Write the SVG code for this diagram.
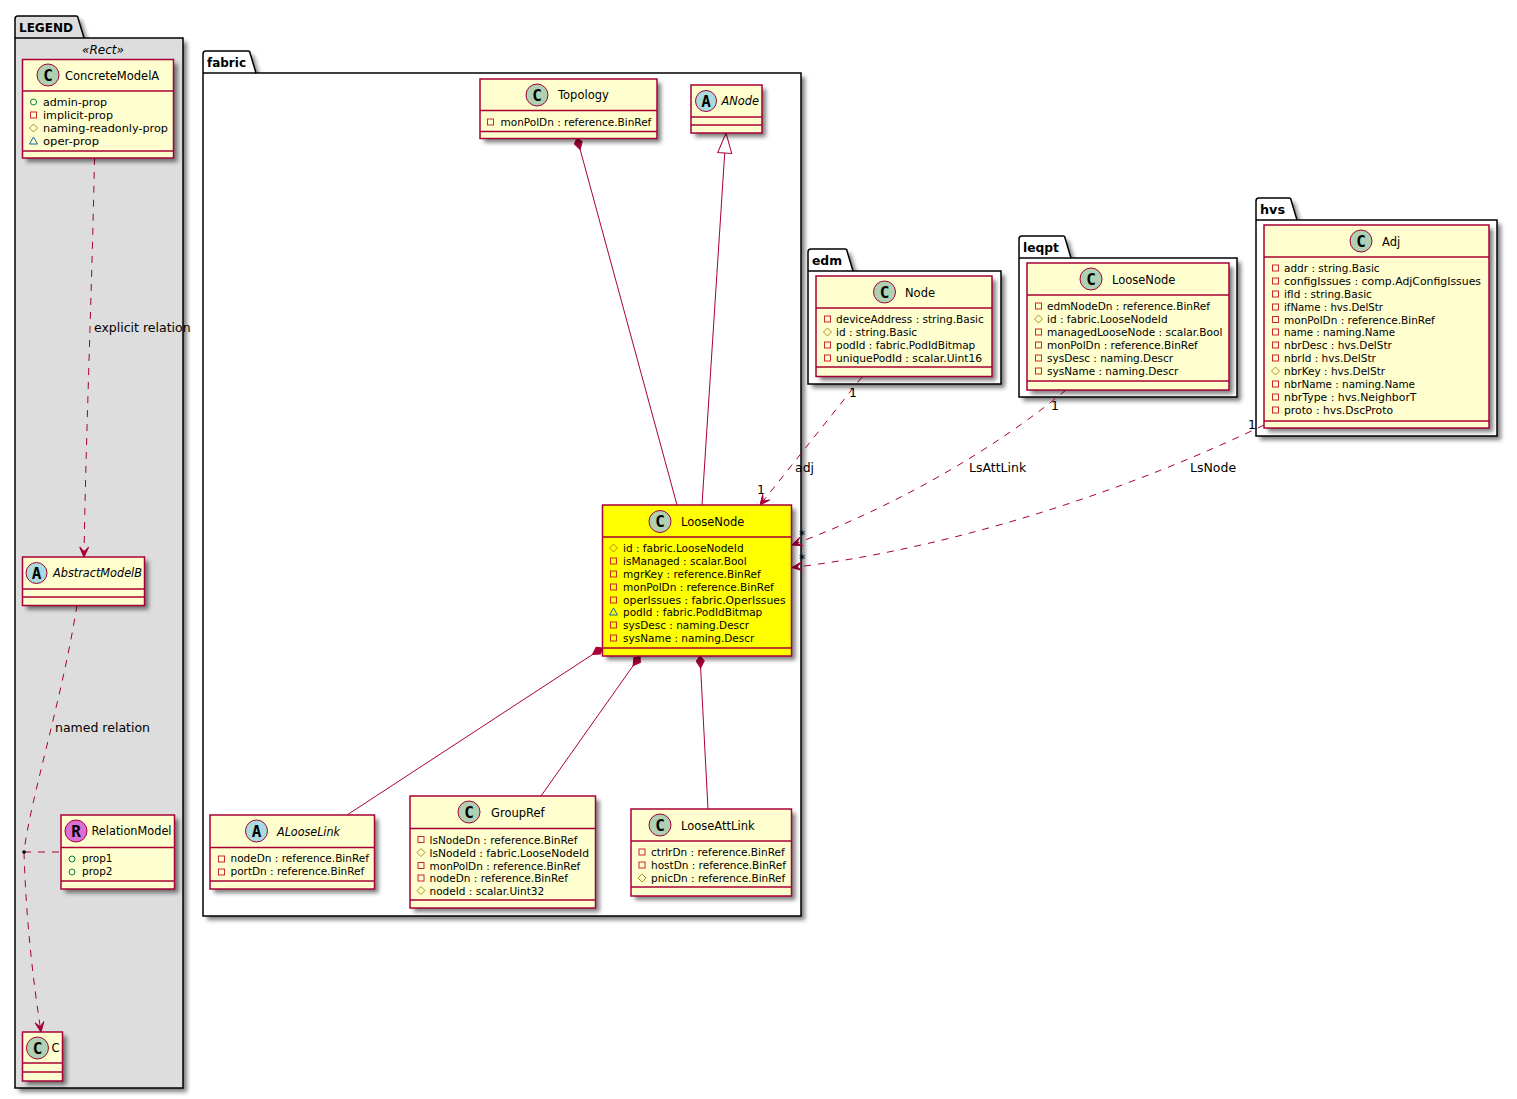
<svg xmlns="http://www.w3.org/2000/svg" width="1517" height="1099" viewBox="0 0 1517 1099">
<style>
text{font-family:"DejaVu Sans","Liberation Sans",sans-serif;fill:#000}
.m{font-size:10.5px}
.t{font-size:11.5px}
.i{font-style:italic}
.p{font-size:12.5px;font-weight:bold}
.l{font-size:12.5px}
.k{font-family:"DejaVu Sans Mono","Liberation Mono",monospace;font-size:16px;font-weight:bold;text-anchor:middle}
.pk{stroke:#000;stroke-width:1.5;fill:#fff}
.sd{fill:#000;opacity:.5}
.box{fill:#FEFECE;stroke:#A80036;stroke-width:1.5}
.ic{stroke:#A80036;stroke-width:1}
.d{stroke:#A80036;stroke-width:1.5}
.c{fill:none;stroke:#A80036;stroke-width:1}
.da{stroke-dasharray:7 7}
</style>
<defs>
<filter id="sh" x="-10%" y="-10%" width="125%" height="125%"><feGaussianBlur stdDeviation="2.2"/></filter>
<g id="pri"><rect x="-3" y="-3" width="6" height="6" fill="none" stroke="#C82930"/></g>
<g id="pro"><path d="M0,-4L4,0L0,4L-4,0Z" fill="none" stroke="#B38D22"/></g>
<g id="pub"><circle r="3" fill="none" stroke="#038048"/></g>
<g id="pkg"><path d="M-4,3L0,-4L4,3Z" fill="none" stroke="#1963A0"/></g>
<marker id="arr" markerUnits="userSpaceOnUse" viewBox="-12 -6 13 12" markerWidth="13" markerHeight="12" refX="0" refY="0" orient="auto"><path d="M0,0L-10,-4.500L-5,0L-10,4.500Z" fill="#A80036" stroke="#A80036"/></marker>
<marker id="dia" markerUnits="userSpaceOnUse" viewBox="-1 -6 15 12" markerWidth="15" markerHeight="12" refX="0" refY="0" orient="auto"><path d="M0,0L5,-4L12,0L5,4Z" fill="#A80036" stroke="#A80036"/></marker>
<marker id="tri" markerUnits="userSpaceOnUse" viewBox="-1 -9 22 18" markerWidth="22" markerHeight="18" refX="0" refY="0" orient="auto"><path d="M0,0L20,-7L20,7Z" fill="#fff" stroke="#A80036"/></marker>
</defs>

<g id="pkg-LEGEND">
<path class="sd" transform="translate(4 4)" d="M15,38V19Q15,16 18,16H76Q78,16 78,18L84,38H183V1088H15Z" filter="url(#sh)"/>
<path class="pk" style="fill:#DDD" d="M15,38V19Q15,16 18,16H76Q78,16 78,18L84,38H183V1088H15Z"/>
<path d="M15,38H84" stroke="#000" stroke-width="1.5"/>
<text class="p" x="19" y="32" textLength="54" lengthAdjust="spacingAndGlyphs">LEGEND</text>
<text class="t i" x="82" y="54" textLength="42" lengthAdjust="spacingAndGlyphs">«Rect»</text>
</g>
<g id="pkg-fabric">
<path class="sd" transform="translate(4 4)" d="M203,73V54Q203,51 206,51H248Q250,51 250,53L256,73H801V916H203Z" filter="url(#sh)"/>
<path class="pk" d="M203,73V54Q203,51 206,51H248Q250,51 250,53L256,73H801V916H203Z"/>
<path d="M203,73H256" stroke="#000" stroke-width="1.5"/>
<text class="p" x="207" y="67" textLength="39" lengthAdjust="spacingAndGlyphs">fabric</text>
</g>
<g id="pkg-edm">
<path class="sd" transform="translate(4 4)" d="M808,271V252Q808,249 811,249H845Q847,249 847,251L853,271H1001V384H808Z" filter="url(#sh)"/>
<path class="pk" d="M808,271V252Q808,249 811,249H845Q847,249 847,251L853,271H1001V384H808Z"/>
<path d="M808,271H853" stroke="#000" stroke-width="1.5"/>
<text class="p" x="812" y="265" textLength="30" lengthAdjust="spacingAndGlyphs">edm</text>
</g>
<g id="pkg-leqpt">
<path class="sd" transform="translate(4 4)" d="M1019,258V239Q1019,236 1022,236H1063Q1065,236 1065,238L1071,258H1237V397H1019Z" filter="url(#sh)"/>
<path class="pk" d="M1019,258V239Q1019,236 1022,236H1063Q1065,236 1065,238L1071,258H1237V397H1019Z"/>
<path d="M1019,258H1071" stroke="#000" stroke-width="1.5"/>
<text class="p" x="1023" y="252" textLength="36" lengthAdjust="spacingAndGlyphs">leqpt</text>
</g>
<g id="pkg-hvs">
<path class="sd" transform="translate(4 4)" d="M1256,220V201Q1256,198 1259,198H1289Q1291,198 1291,200L1297,220H1497V436H1256Z" filter="url(#sh)"/>
<path class="pk" d="M1256,220V201Q1256,198 1259,198H1289Q1291,198 1291,200L1297,220H1497V436H1256Z"/>
<path d="M1256,220H1297" stroke="#000" stroke-width="1.5"/>
<text class="p" x="1260" y="214" textLength="25" lengthAdjust="spacingAndGlyphs">hvs</text>
</g>

<g id="connectors">
<path class="c da" d="M94.5,158C92,290 86,430 84,557" marker-end="url(#arr)"/>
<path class="c da" d="M77,605C62,700 30,800 24,852"/>
<path class="c da" d="M24,852C26,920 33,980 41,1032" marker-end="url(#arr)"/>
<path class="c da" d="M24,852H61"/>
<circle cx="24" cy="852" r="1.800" fill="#000"/>
<path class="c" d="M577,138L677,505" marker-start="url(#dia)"/>
<path class="c" d="M726,133L702,505" marker-start="url(#tri)"/>
<path class="c" d="M602.500,648L347,815" marker-start="url(#dia)"/>
<path class="c" d="M640,656L541,796" marker-start="url(#dia)"/>
<path class="c" d="M700,656L708,809" marker-start="url(#dia)"/>
<path class="c da" d="M862,377L760,505" marker-end="url(#arr)"/>
<path class="c da" d="M1066,390C1000,445 900,505 792,545" marker-end="url(#arr)"/>
<path class="c da" d="M1264,425C1140,485 960,548 792,567.500" marker-end="url(#arr)"/>
<text class="l" x="94" y="332">explicit relation</text>
<text class="l" x="55" y="732">named relation</text>
<text class="l" x="795" y="472">adj</text>
<text class="l" x="969" y="472">LsAttLink</text>
<text class="l" x="1190" y="472">LsNode</text>
<text class="l" x="849" y="397">1</text>
<text class="l" x="757" y="494">1</text>
<text class="l" x="1051" y="410">1</text>
<text class="l" x="799" y="539">*</text>
<text class="l" x="1248" y="429">1</text>
<text class="l" x="799" y="563">*</text>
</g>

<g id="ConcreteModelA">
<rect x="26.500" y="63.500" width="151" height="98.500" class="sd" filter="url(#sh)"/>
<rect class="box" x="22.500" y="59.500" width="151" height="98.500"/>
<path class="d" d="M22.500,91H173.500M22.500,151H173.500"/>
<circle class="ic" cx="48" cy="75" r="11" fill="#ADD1B2"/><text class="k" x="48" y="80.500">C</text>
<text class="t" x="65" y="80">ConcreteModelA</text>
<use href="#pub" x="33.500" y="102"/><text class="m" x="43" y="106" textLength="64" lengthAdjust="spacingAndGlyphs">admin-prop</text>
<use href="#pri" x="33.500" y="115"/><text class="m" x="43" y="119" textLength="70" lengthAdjust="spacingAndGlyphs">implicit-prop</text>
<use href="#pro" x="33.500" y="128"/><text class="m" x="43" y="132" textLength="125" lengthAdjust="spacingAndGlyphs">naming-readonly-prop</text>
<use href="#pkg" x="33.500" y="141"/><text class="m" x="43" y="145" textLength="56" lengthAdjust="spacingAndGlyphs">oper-prop</text>
</g>
<g id="AbstractModelB">
<rect x="26.500" y="561" width="122" height="48.500" class="sd" filter="url(#sh)"/>
<rect class="box" x="22.500" y="557" width="122" height="48.500"/>
<path class="d" d="M22.500,589H144.500M22.500,597H144.500"/>
<circle class="ic" cx="36.500" cy="573" r="10.500" fill="#A9DCDF"/><text class="k" x="36.500" y="578.500">A</text>
<text class="t i" x="53" y="577" textLength="89" lengthAdjust="spacingAndGlyphs">AbstractModelB</text>
</g>
<g id="RelationModel">
<rect x="65" y="819" width="113.500" height="74" class="sd" filter="url(#sh)"/>
<rect class="box" x="61" y="815" width="113.500" height="74"/>
<path class="d" d="M61,847.500H174.500M61,881H174.500"/>
<circle class="ic" cx="76" cy="831" r="11" fill="#DA70D6"/><text class="k" x="76" y="836.500">R</text>
<text class="t" x="91.500" y="835" textLength="80" lengthAdjust="spacingAndGlyphs">RelationModel</text>
<use href="#pub" x="72" y="859"/><text class="m" x="82" y="862">prop1</text>
<use href="#pub" x="72" y="872"/><text class="m" x="82" y="875">prop2</text>
</g>
<g id="C">
<rect x="26.500" y="1036" width="40" height="49" class="sd" filter="url(#sh)"/>
<rect class="box" x="22.500" y="1032" width="40" height="49"/>
<path class="d" d="M22.500,1063H62.500M22.500,1072H62.500"/>
<circle class="ic" cx="37.500" cy="1048" r="11" fill="#ADD1B2"/><text class="k" x="37.500" y="1053.500">C</text>
<text class="t" x="51.500" y="1052">C</text>
</g>
<g id="Topology">
<rect x="484" y="83" width="177" height="59.500" class="sd" filter="url(#sh)"/>
<rect class="box" x="480" y="79" width="177" height="59.500"/>
<path class="d" d="M480,110.500H657M480,131.500H657"/>
<circle class="ic" cx="537" cy="95" r="11" fill="#ADD1B2"/><text class="k" x="537" y="100.500">C</text>
<text class="t" x="558" y="99">Topology</text>
<use href="#pri" x="490.500" y="122"/><text class="m" x="500.500" y="126">monPolDn : reference.BinRef</text>
</g>
<g id="ANode">
<rect x="695" y="89" width="71" height="48" class="sd" filter="url(#sh)"/>
<rect class="box" x="691" y="85" width="71" height="48"/>
<path class="d" d="M691,117H762M691,125H762"/>
<circle class="ic" cx="706" cy="101" r="10.500" fill="#A9DCDF"/><text class="k" x="706" y="106.500">A</text>
<text class="t i" x="721.500" y="105" textLength="37.500" lengthAdjust="spacingAndGlyphs">ANode</text>
</g>
<g id="fabric-LooseNode">
<rect x="606.500" y="509" width="189" height="151" class="sd" filter="url(#sh)"/>
<rect class="box" style="fill:#FF0" x="602.500" y="505" width="189" height="151"/>
<path class="d" d="M602.500,537H791.500M602.500,648H791.500"/>
<circle class="ic" cx="660" cy="521.500" r="11" fill="#ADD1B2"/><text class="k" x="660" y="527">C</text>
<text class="t" x="681" y="526">LooseNode</text>
<use href="#pro" x="613.500" y="548"/><text class="m" x="623" y="552">id : fabric.LooseNodeId</text>
<use href="#pri" x="613.500" y="561"/><text class="m" x="623" y="565">isManaged : scalar.Bool</text>
<use href="#pri" x="613.500" y="574"/><text class="m" x="623" y="578">mgrKey : reference.BinRef</text>
<use href="#pri" x="613.500" y="587"/><text class="m" x="623" y="591">monPolDn : reference.BinRef</text>
<use href="#pri" x="613.500" y="600"/><text class="m" x="623" y="604" textLength="162.500" lengthAdjust="spacingAndGlyphs">operIssues : fabric.OperIssues</text>
<use href="#pkg" x="613.500" y="612"/><text class="m" x="623" y="616">podId : fabric.PodIdBitmap</text>
<use href="#pri" x="613.500" y="625"/><text class="m" x="623" y="629">sysDesc : naming.Descr</text>
<use href="#pri" x="613.500" y="638"/><text class="m" x="623" y="642">sysName : naming.Descr</text>
</g>
<g id="ALooseLink">
<rect x="214" y="819" width="164.500" height="74" class="sd" filter="url(#sh)"/>
<rect class="box" x="210" y="815" width="164.500" height="74"/>
<path class="d" d="M210,847.500H374.500M210,881H374.500"/>
<circle class="ic" cx="256.500" cy="831" r="11" fill="#A9DCDF"/><text class="k" x="256.500" y="836.500">A</text>
<text class="t i" x="277" y="836" textLength="63" lengthAdjust="spacingAndGlyphs">ALooseLink</text>
<use href="#pri" x="221.500" y="859"/><text class="m" x="230.500" y="862">nodeDn : reference.BinRef</text>
<use href="#pri" x="221.500" y="872"/><text class="m" x="230.500" y="875">portDn : reference.BinRef</text>
</g>
<g id="GroupRef">
<rect x="414" y="800" width="185.500" height="112" class="sd" filter="url(#sh)"/>
<rect class="box" x="410" y="796" width="185.500" height="112"/>
<path class="d" d="M410,828.500H595.500M410,900H595.500"/>
<circle class="ic" cx="469" cy="812" r="11" fill="#ADD1B2"/><text class="k" x="469" y="817.500">C</text>
<text class="t" x="491" y="817">GroupRef</text>
<use href="#pri" x="421" y="839.500"/><text class="m" x="429.500" y="843.500">lsNodeDn : reference.BinRef</text>
<use href="#pro" x="421" y="852.500"/><text class="m" x="429.500" y="856.500" textLength="159.500" lengthAdjust="spacingAndGlyphs">lsNodeId : fabric.LooseNodeId</text>
<use href="#pri" x="421" y="865.500"/><text class="m" x="429.500" y="869.500">monPolDn : reference.BinRef</text>
<use href="#pri" x="421" y="878"/><text class="m" x="429.500" y="882">nodeDn : reference.BinRef</text>
<use href="#pro" x="421" y="890.500"/><text class="m" x="429.500" y="894.500">nodeId : scalar.Uint32</text>
</g>
<g id="LooseAttLink">
<rect x="635" y="813" width="160.500" height="87" class="sd" filter="url(#sh)"/>
<rect class="box" x="631" y="809" width="160.500" height="87"/>
<path class="d" d="M631,841H791.500M631,887H791.500"/>
<circle class="ic" cx="660" cy="825" r="11" fill="#ADD1B2"/><text class="k" x="660" y="830.500">C</text>
<text class="t" x="681" y="830">LooseAttLink</text>
<use href="#pri" x="642" y="852"/><text class="m" x="651" y="856">ctrlrDn : reference.BinRef</text>
<use href="#pri" x="642" y="865"/><text class="m" x="651" y="869">hostDn : reference.BinRef</text>
<use href="#pro" x="642" y="878"/><text class="m" x="651" y="882">pnicDn : reference.BinRef</text>
</g>
<g id="edm-Node">
<rect x="820" y="280" width="176" height="100.500" class="sd" filter="url(#sh)"/>
<rect class="box" x="816" y="276" width="176" height="100.500"/>
<path class="d" d="M816,308H992M816,367H992"/>
<circle class="ic" cx="884.500" cy="292" r="11" fill="#ADD1B2"/><text class="k" x="884.500" y="297.500">C</text>
<text class="t" x="905" y="297">Node</text>
<use href="#pri" x="827.500" y="319"/><text class="m" x="836" y="323">deviceAddress : string.Basic</text>
<use href="#pro" x="827.500" y="332"/><text class="m" x="836" y="336">id : string.Basic</text>
<use href="#pri" x="827.500" y="345"/><text class="m" x="836" y="349">podId : fabric.PodIdBitmap</text>
<use href="#pri" x="827.500" y="358"/><text class="m" x="836" y="362" textLength="146" lengthAdjust="spacingAndGlyphs">uniquePodId : scalar.Uint16</text>
</g>
<g id="leqpt-LooseNode">
<rect x="1031" y="267" width="202" height="127" class="sd" filter="url(#sh)"/>
<rect class="box" x="1027" y="263" width="202" height="127"/>
<path class="d" d="M1027,295H1229M1027,381H1229"/>
<circle class="ic" cx="1091" cy="279" r="11" fill="#ADD1B2"/><text class="k" x="1091" y="284.500">C</text>
<text class="t" x="1112" y="284">LooseNode</text>
<use href="#pri" x="1038.500" y="306"/><text class="m" x="1047" y="310">edmNodeDn : reference.BinRef</text>
<use href="#pro" x="1038.500" y="319"/><text class="m" x="1047" y="323">id : fabric.LooseNodeId</text>
<use href="#pri" x="1038.500" y="332"/><text class="m" x="1047" y="336" textLength="175.500" lengthAdjust="spacingAndGlyphs">managedLooseNode : scalar.Bool</text>
<use href="#pri" x="1038.500" y="345"/><text class="m" x="1047" y="349">monPolDn : reference.BinRef</text>
<use href="#pri" x="1038.500" y="358"/><text class="m" x="1047" y="362">sysDesc : naming.Descr</text>
<use href="#pri" x="1038.500" y="371"/><text class="m" x="1047" y="375">sysName : naming.Descr</text>
</g>
<g id="hvs-Adj">
<rect x="1268" y="229" width="225" height="203" class="sd" filter="url(#sh)"/>
<rect class="box" x="1264" y="225" width="225" height="203"/>
<path class="d" d="M1264,257H1489M1264,421H1489"/>
<circle class="ic" cx="1361" cy="241" r="11" fill="#ADD1B2"/><text class="k" x="1361" y="246.500">C</text>
<text class="t" x="1382" y="246">Adj</text>
<use href="#pri" x="1275.500" y="268"/><text class="m" x="1284" y="272">addr : string.Basic</text>
<use href="#pri" x="1275.500" y="281"/><text class="m" x="1284" y="285" textLength="197" lengthAdjust="spacingAndGlyphs">configIssues : comp.AdjConfigIssues</text>
<use href="#pri" x="1275.500" y="294"/><text class="m" x="1284" y="298">ifId : string.Basic</text>
<use href="#pri" x="1275.500" y="307"/><text class="m" x="1284" y="311" textLength="99" lengthAdjust="spacingAndGlyphs">ifName : hvs.DelStr</text>
<use href="#pri" x="1275.500" y="319.500"/><text class="m" x="1284" y="323.500">monPolDn : reference.BinRef</text>
<use href="#pri" x="1275.500" y="332"/><text class="m" x="1284" y="336" textLength="111" lengthAdjust="spacingAndGlyphs">name : naming.Name</text>
<use href="#pri" x="1275.500" y="345"/><text class="m" x="1284" y="349">nbrDesc : hvs.DelStr</text>
<use href="#pri" x="1275.500" y="358"/><text class="m" x="1284" y="362">nbrId : hvs.DelStr</text>
<use href="#pro" x="1275.500" y="371"/><text class="m" x="1284" y="375">nbrKey : hvs.DelStr</text>
<use href="#pri" x="1275.500" y="384"/><text class="m" x="1284" y="388" textLength="131" lengthAdjust="spacingAndGlyphs">nbrName : naming.Name</text>
<use href="#pri" x="1275.500" y="397"/><text class="m" x="1284" y="401" textLength="132.500" lengthAdjust="spacingAndGlyphs">nbrType : hvs.NeighborT</text>
<use href="#pri" x="1275.500" y="410"/><text class="m" x="1284" y="414" textLength="109" lengthAdjust="spacingAndGlyphs">proto : hvs.DscProto</text>
</g>
</svg>
